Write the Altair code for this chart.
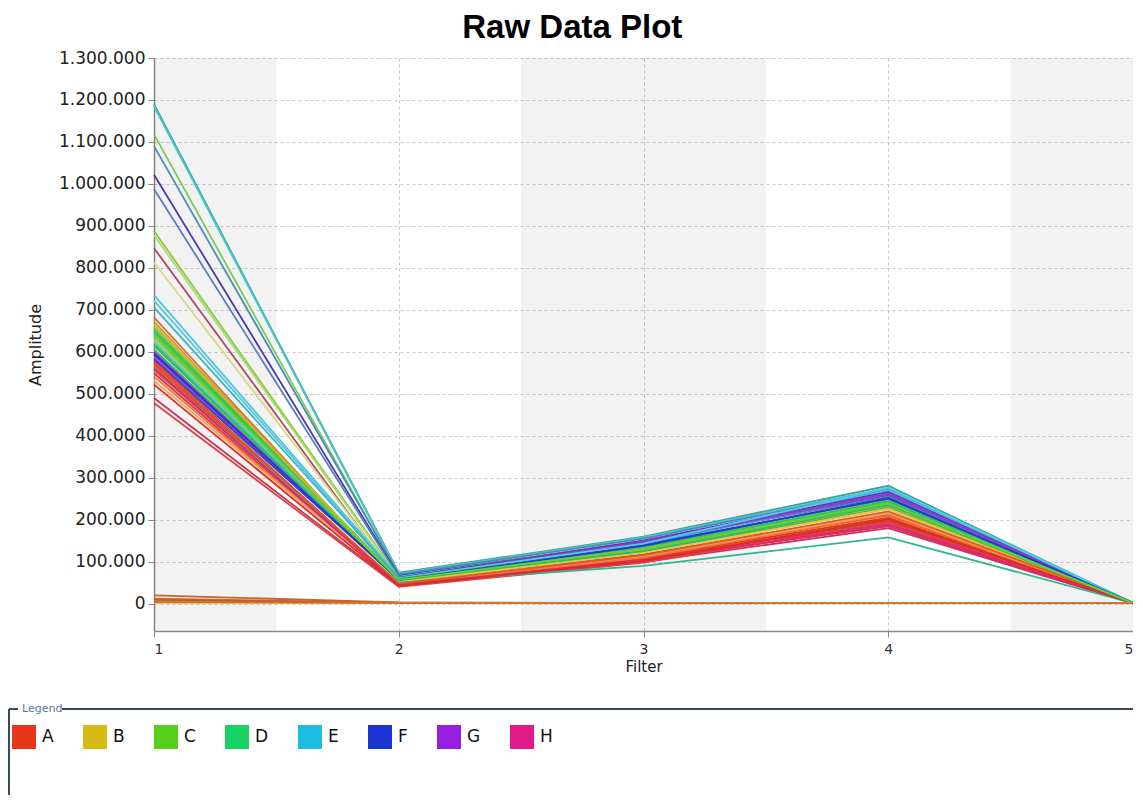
import altair as alt
import pandas as pd

# ---------------- data ----------------
filters = [1, 2, 3, 4, 5]

line_ids = ["L01", "L02", "L03", "L04", "L05", "L06", "L07", "L08", "L09", "L10",
            "L11", "L12", "L13", "L14", "L15", "L16", "L17", "L18", "L19", "L20",
            "L21", "L22", "L23", "L24", "L25", "L26", "L27", "L28", "L29", "L30",
            "L31", "L32", "L33", "L34", "L35", "L36", "L37", "L38", "L39", "L40",
            "L41", "L42", "L43", "L44", "L45", "L46", "L47", "L48",
            "L49", "L50", "L51", "L52", "L53", "L54"]

groups = ["E", "E", "C", "E", "F", "F", "C", "C", "H", "B",
          "E", "E", "E", "A", "B", "C", "C", "D", "C", "B",
          "B", "C", "D", "B", "G", "G", "F", "A", "H", "A",
          "A", "A", "H", "A", "A", "H", "A", "D", "G", "E",
          "D", "B", "A", "H", "A", "D", "F", "C",
          "A", "A", "B", "A", "B", "A"]

amp_f1 = [1190000, 1185000, 1118000, 1090000, 1022000, 988000, 888000, 878000, 847000, 813000,
          735000, 722000, 706000, 682000, 672000, 658000, 648000, 642000, 634000, 627000,
          620000, 614000, 606000, 598000, 592000, 586000, 582000, 578000, 574000, 569000,
          563000, 556000, 549000, 541000, 531000, 490000, 478000, 560000, 600000, 625000,
          652000, 665000, 575000, 560000, 522000, 618000, 596000, 640000,
          20000, 12000, 6000, 9000, 2000, 4000]

amp_f2 = [74000, 72000, 68000, 70000, 66000, 64000, 62000, 60000, 52000, 58000,
          64000, 62000, 61000, 50000, 53000, 59000, 58000, 57000, 57000, 55000,
          54000, 56000, 55000, 53000, 62000, 60000, 58000, 46000, 48000, 45000,
          44000, 47000, 45000, 46000, 48000, 42000, 40000, 50000, 59000, 61000,
          59000, 55000, 47000, 44000, 43000, 56000, 57000, 57000,
          3000, 2500, 2000, 2000, 1500, 1500]

amp_f3 = [160000, 158000, 150000, 155000, 148000, 146000, 140000, 136000, 118000, 130000,
          148000, 144000, 142000, 114000, 122000, 134000, 132000, 130000, 128000, 125000,
          123000, 127000, 125000, 121000, 150000, 146000, 140000, 110000, 112000, 108000,
          106000, 113000, 106000, 110000, 114000, 100000, 98000, 90000, 148000, 143000,
          136000, 128000, 116000, 104000, 102000, 126000, 138000, 131000,
          1500, 1500, 1500, 1500, 1500, 1500]

amp_f4 = [281000, 276000, 262000, 272000, 258000, 255000, 248000, 242000, 212000, 236000,
          270000, 266000, 262000, 212000, 226000, 244000, 240000, 238000, 236000, 232000,
          229000, 234000, 231000, 226000, 266000, 261000, 250000, 205000, 190000, 200000,
          197000, 210000, 184000, 214000, 216000, 180000, 194000, 158000, 263000, 276000,
          244000, 233000, 220000, 188000, 202000, 235000, 252000, 239000,
          1500, 1500, 1500, 1500, 1500, 1500]

amp_f5 = [1500] * 54

legend_letters = ["A", "B", "C", "D", "E", "F", "G", "H"]

# ---------------- styles ----------------
line_colors = ["#3c9fa0", "#48c8c8", "#7cc858", "#4a8cbc", "#4a3ca8", "#5880c0", "#8cc840", "#a8dc70", "#b04860", "#d8d880",
               "#48c8dc", "#60c4d4", "#30b8cc", "#c87838", "#d89830", "#78cc30", "#60bc28", "#40c468", "#90cc3c", "#d4c428",
               "#c8a820", "#58b434", "#34b478", "#e0cc40", "#7030c0", "#9444d0", "#3048c8", "#e03420", "#d02c7c", "#e84424",
               "#d83c2c", "#ec6424", "#d8344c", "#f07434", "#f0a468", "#c8345c", "#d84444", "#30b890", "#8440cc", "#48d0e0",
               "#20c86c", "#d8b424", "#e85424", "#e0247c", "#e02c1c", "#28c070", "#2838d0", "#68d028",
               "#c86428", "#d26a24", "#d8a030", "#c05a30", "#e0c040", "#d07030"]
legend_colors = ["#e8361c", "#d4bc14", "#54d01c", "#18d266", "#1cbde0", "#1c34d4", "#9620e0", "#e01a88"]

band_start = [1, 2.5, 4.5]
band_end = [1.5, 3.5, 5]

y_ticks = [0, 100000, 200000, 300000, 400000, 500000, 600000, 700000,
           800000, 900000, 1000000, 1100000, 1200000, 1300000]
Y_MIN, Y_MAX = -65000, 1300000

W, H = 979, 573
FONT = "DejaVu Sans"

# ---------------- tables ----------------
rows = []
for i, lid in enumerate(line_ids):
    vals = [amp_f1[i], amp_f2[i], amp_f3[i], amp_f4[i], amp_f5[i]]
    for f, v in zip(filters, vals):
        rows.append({"line": lid, "group": groups[i], "filter": f, "amp": v})
df = pd.DataFrame(rows)
band_df = pd.DataFrame({"x0": band_start, "x1": band_end})
legend_df = pd.DataFrame({"letter": legend_letters})
one = pd.DataFrame({"k": [0]})

xscale = alt.Scale(domain=[1, 5], nice=False, zero=False)
yscale = alt.Scale(domain=[Y_MIN, Y_MAX], nice=False, zero=False)

x_axis = alt.Axis(title="Filter", values=filters, format="d", grid=True,
                  gridDash=[3, 3], gridColor="#c8c8c8", domainColor="#8a8a8a",
                  domainWidth=1.5, tickColor="#8a8a8a", tickSize=6,
                  labelFont=FONT, labelFontSize=14, labelColor="#333333",
                  labelPadding=5, titleFont=FONT, titleFontSize=15,
                  titleFontWeight="normal", titleColor="#222222", titlePadding=3)
y_axis = alt.Axis(title="Amplitude", values=y_ticks, grid=True,
                  gridDash=[3, 3], gridColor="#c8c8c8", domainColor="#8a8a8a",
                  domainWidth=1.5, tickColor="#8a8a8a", tickSize=6,
                  labelExpr="replace(format(datum.value, ','), regexp(',', 'g'), '.')",
                  labelFont=FONT, labelFontSize=17, labelColor="#222222",
                  labelPadding=3, titleFont=FONT, titleFontSize=16,
                  titleFontWeight="normal", titleColor="#222222", titlePadding=15)

bands = alt.Chart(band_df).mark_rect(color="#000000", opacity=0.05).encode(
    x=alt.X("x0:Q", scale=xscale, axis=x_axis),
    x2="x1:Q",
    y=alt.Y(datum=Y_MAX, scale=yscale, axis=y_axis),
    y2=alt.datum(Y_MIN),
)

lines = alt.Chart(df).mark_line(strokeWidth=1.8).encode(
    x=alt.X("filter:Q", scale=xscale, axis=x_axis),
    y=alt.Y("amp:Q", scale=yscale, axis=y_axis),
    color=alt.Color("line:N", scale=alt.Scale(domain=line_ids, range=line_colors), legend=None),
)

legend_layer = alt.Chart(legend_df).mark_square(size=1, opacity=1).encode(
    x=alt.datum(5),
    y=alt.datum(0),
    color=alt.Color("letter:N", scale=alt.Scale(domain=legend_letters, range=legend_colors),
                    legend=alt.Legend(title=None, orient="none", legendX=-142, legendY=667,
                                      direction="horizontal", columns=8, symbolType="square",
                                      symbolSize=576, symbolStrokeWidth=0, labelFont=FONT,
                                      labelFontSize=17, labelOffset=6, columnPadding=29,
                                      labelColor="#111111")),
)

BOX = "#3a4a5a"
rule_a = alt.Chart(one).mark_rule(color=BOX, strokeWidth=2).encode(
    x=alt.value(-145), x2=alt.value(-136), y=alt.value(651))
rule_b = alt.Chart(one).mark_rule(color=BOX, strokeWidth=2).encode(
    x=alt.value(-92), x2=alt.value(W + 2), y=alt.value(651))
rule_c = alt.Chart(one).mark_rule(color=BOX, strokeWidth=2).encode(
    x=alt.value(-145), y=alt.value(651), y2=alt.value(752))
legend_title = alt.Chart(one).mark_text(text="Legend", font=FONT, fontSize=11, color="#5878a0",
                                        align="left", baseline="middle").encode(
    x=alt.value(-132), y=alt.value(651))

chart = alt.layer(bands, lines, legend_layer, rule_a, rule_b, rule_c, legend_title).resolve_scale(
    color="independent"
).properties(
    width=W, height=H,
    title=alt.TitleParams("Raw Data Plot", font="Liberation Sans", fontSize=33, fontWeight="bold",
                          anchor="middle", frame="bounds", offset=4, color="#000000"),
    padding={"left": 0, "top": 4, "right": -4, "bottom": -16},
).configure_view(strokeWidth=0)

chart.save("out.html", embed_options={"renderer": "svg", "actions": False})
